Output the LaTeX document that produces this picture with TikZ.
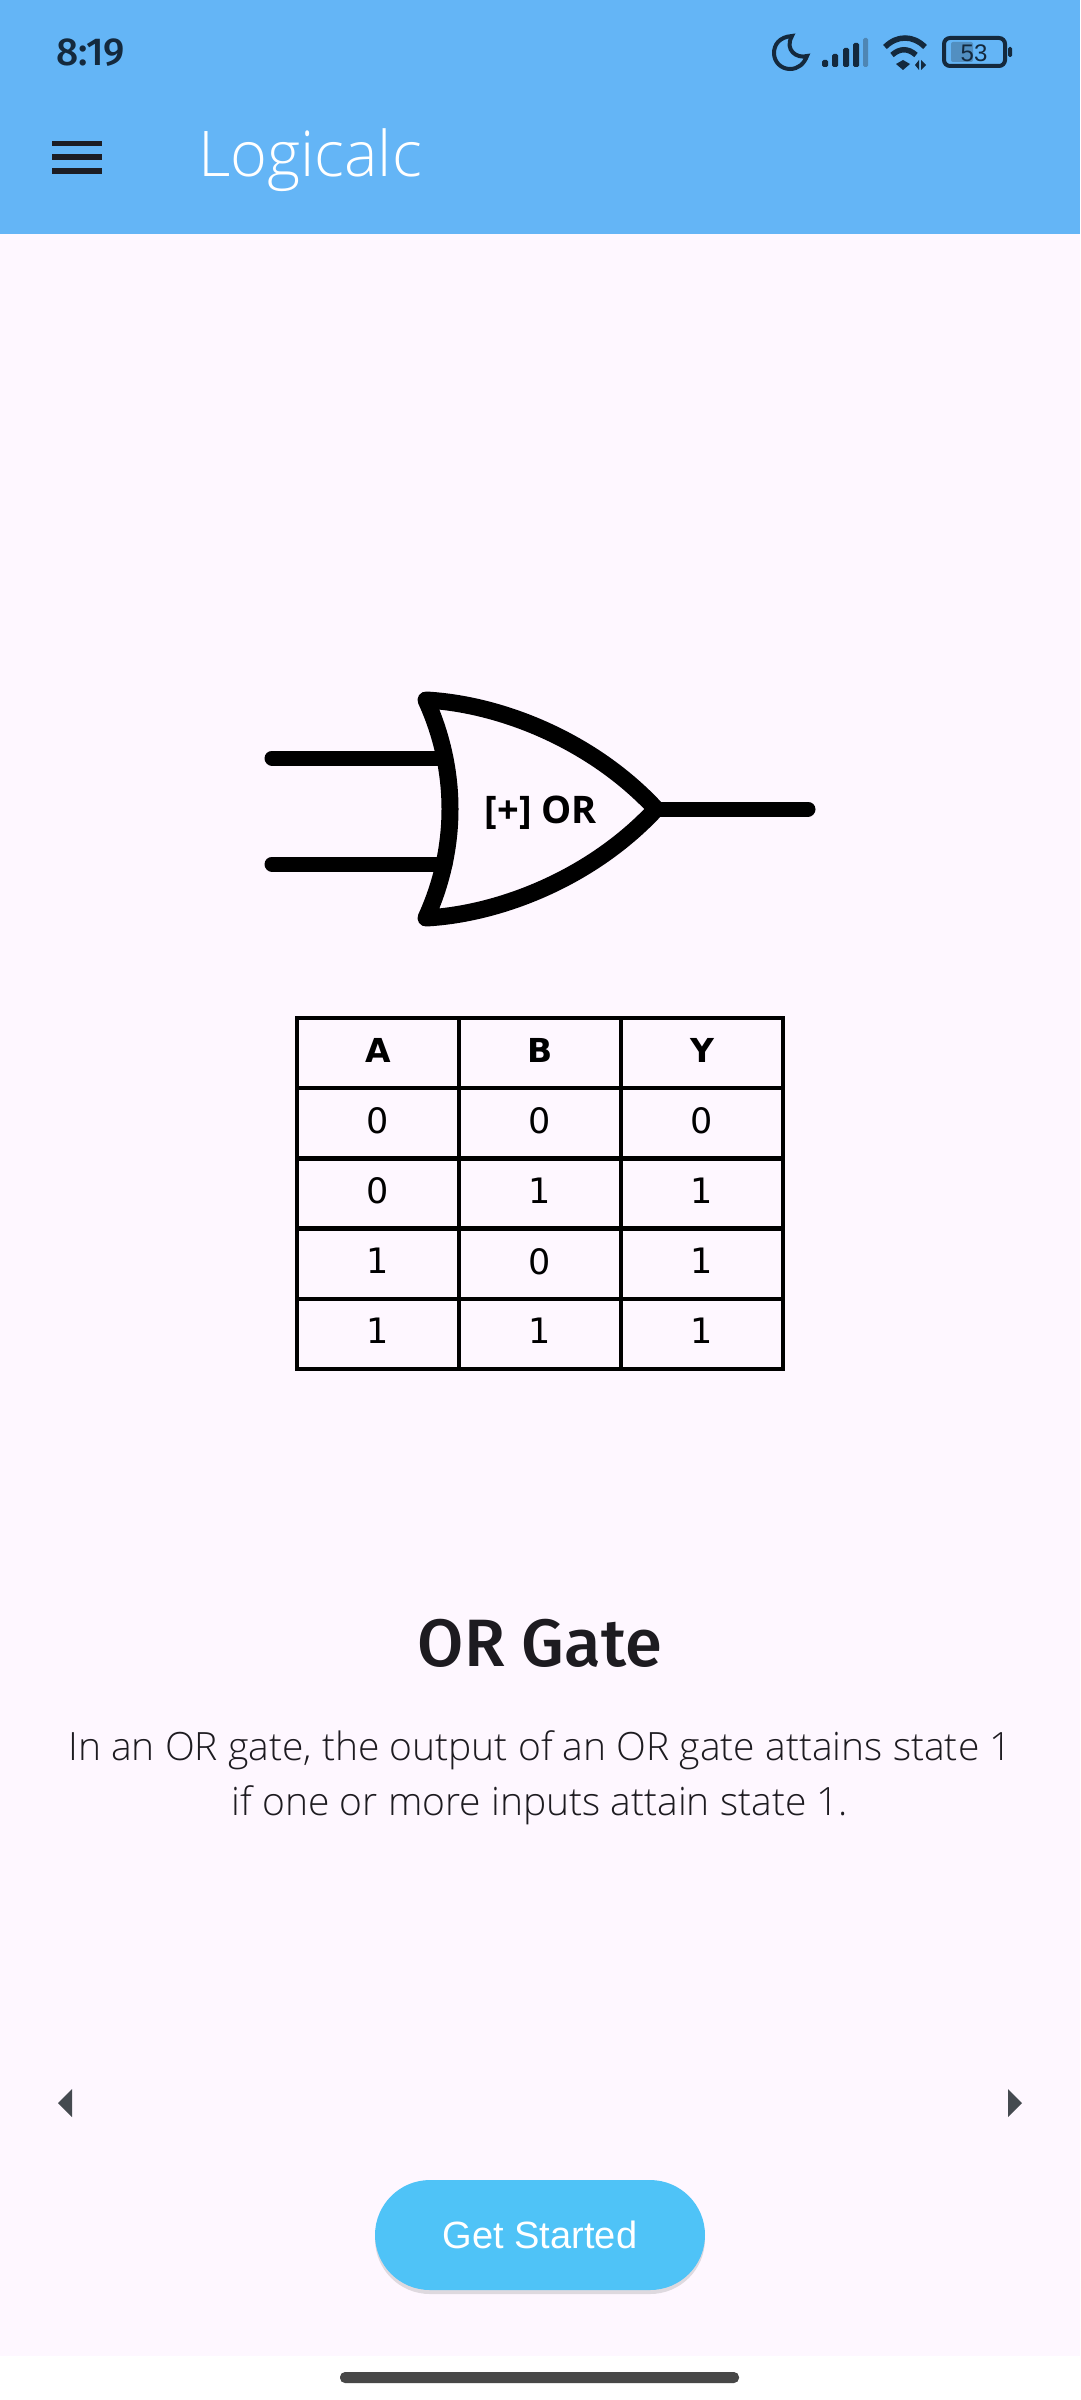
\documentclass[tikz,border=0pt]{standalone}
\usepackage{fontspec}
\usepackage{tikz}
\usetikzlibrary{shadows}
\setmainfont{Open Sans Light}[BoldFont=Open Sans]
\newfontfamily\robo{Liberation Sans}
\newfontfamily\robomed{Fira Sans Medium}
\newfontfamily\gatefont{Open Sans}
\newfontfamily\tabfont{DejaVu Sans}
\definecolor{barblue}{HTML}{64B5F6}
\definecolor{btnblue}{HTML}{4FC3F7}
\definecolor{page}{HTML}{FEF7FF}
\definecolor{ink}{HTML}{1D1B20}
\definecolor{navy}{HTML}{14293D}
\definecolor{arrowgrey}{HTML}{454A50}
\definecolor{fadebar}{HTML}{4E86B4}
\newcommand{\fs}[1]{\fontsize{#1pt}{#1pt}\selectfont}

\begin{document}
\begin{tikzpicture}[x=1pt,y=-1pt,
  wire/.style={line width=15pt,line cap=round,draw=black},
  gate/.style={line width=17pt,line join=round,draw=black},
  cell/.style={rectangle,draw=black,line width=4.5pt,minimum width=162pt,minimum height=70.2pt,inner sep=0pt,text depth=6pt,font=\tabfont\fs{35}},
  head/.style={cell,font=\tabfont\bfseries\fs{33}},
  ic/.style={draw=navy,line width=4pt},
  bar/.style={fill=navy,rounded corners=1.5pt},
  menu/.style={fill=ink!85!navy},
  tri/.style={fill=arrowgrey}]
\useasboundingbox (0,0) rectangle (1080,2400);

% screen areas
\fill[white] (0,0) rectangle (1080,2400);
\fill[page] (0,234) rectangle (1080,2356);
\fill[barblue] (0,0) rectangle (1080,234);

% status bar
\node[anchor=base west,inner sep=0pt,text=navy,font=\robomed\fs{39}] (clock) at (56,66) {8:19};
\draw[ic] (792,36) .. controls (779,37) and (774,45) .. (774,53) .. controls (774,62) and (781,69) .. (790,69) .. controls (798,69) and (804,64) .. (807,56) .. controls (797,59) and (784,50) .. (792,36) -- cycle;
\fill[bar] (822,67) rectangle (828,60);
\fill[bar] (832,67) rectangle (838,54);
\fill[bar] (843,67) rectangle (849,48);
\fill[bar] (853,67) rectangle (859,43);
\fill[fadebar,rounded corners=1.5pt] (863,67) rectangle (868,38);
\draw[ic,line width=5.5pt] (885,47) .. controls (897,35) and (913,35) .. (925,47);
\draw[ic,line width=5.5pt] (892,55) .. controls (900,48) and (908,48) .. (916,55);
\fill[navy] (896,64) -- (903,60) -- (910,64) -- (903,70) -- cycle;
\fill[navy] (915,65) -- (919,60) -- (919,70) -- cycle (921,60) -- (921,70) -- (926,65) -- cycle;
\fill[fadebar!80!barblue,rounded corners=2pt] (951,42) rectangle (973,62);
\draw[ic,rounded corners=6pt] (944,38) rectangle (1005,66);
\fill[navy,rounded corners=1.5pt] (1008,47) rectangle (1012,57);
\node[inner sep=0pt,text=navy,font=\robo\fs{24}] (batt) at (974,53) {53};

% app bar
\fill[menu] (52,141) rectangle (102,146);
\fill[menu] (52,154) rectangle (102,160);
\fill[menu] (52,168) rectangle (102,174);
\node[anchor=base west,inner sep=0pt,text=white,font=\fs{63}] (appname) at (198,177) {Logicalc};

% or gate
\coordinate (ia) at (272,758);
\coordinate (ib) at (272,864);
\coordinate (ga) at (445,758);
\coordinate (gb) at (445,864);
\coordinate (gy) at (656,809);
\coordinate (oy) at (808,809);
\draw[wire] (ia)--(ga);
\draw[wire] (ib)--(gb);
\draw[wire] (gy)--(oy);
\draw[gate] (426,700) .. controls (500,704) and (592,740) .. (gy) .. controls (592,878) and (500,914) .. (426,918) .. controls (458,848) and (458,770) .. cycle;
\node[inner sep=0pt,font=\gatefont\bfseries\fs{38}] (gname) at (541,813) {[+] OR};

% truth table
\node[head] (ta) at (378,1053) {A};
\node[head] (tb) at (540,1053) {B};
\node[head] (ty) at (702,1053) {Y};
\node[cell] (a1) at (378,1123) {0};
\node[cell] (b1) at (540,1123) {0};
\node[cell] (y1) at (702,1123) {0};
\node[cell] (a2) at (378,1193.5) {0};
\node[cell] (b2) at (540,1193.5) {1};
\node[cell] (y2) at (702,1193.5) {1};
\node[cell] (a3) at (378,1264) {1};
\node[cell] (b3) at (540,1264) {0};
\node[cell] (y3) at (702,1264) {1};
\node[cell] (a4) at (378,1334) {1};
\node[cell] (b4) at (540,1334) {1};
\node[cell] (y4) at (702,1334) {1};

% page text
\node[anchor=base,inner sep=0pt,text=ink,font=\robomed\fs{67}] (heading) at (540,1666) {OR Gate};
\node[anchor=base,inner sep=0pt,text=ink,font=\fs{39}] (line1) at (540,1760) {In an OR gate, the output of an OR gate attains state 1};
\node[anchor=base,inner sep=0pt,text=ink,font=\fs{39}] (line2) at (540,1815) {if one or more inputs attain state 1.};

% page arrows
\fill[tri] (72,2089) -- (58,2103) -- (72,2117) -- cycle;
\fill[tri] (1008,2089) -- (1022,2103) -- (1008,2117) -- cycle;

% button
\node[rectangle,fill=btnblue,rounded corners=55pt,minimum width=330pt,minimum height=110pt,inner sep=0pt,text=white,font=\robo\fs{38},drop shadow={shadow xshift=0pt,shadow yshift=-4pt,opacity=.25}] (start) at (540,2235) {Get Started};

% home bar
\fill[black!72,rounded corners=5pt] (340,2372) rectangle (739,2383);
\end{tikzpicture}
\end{document}
